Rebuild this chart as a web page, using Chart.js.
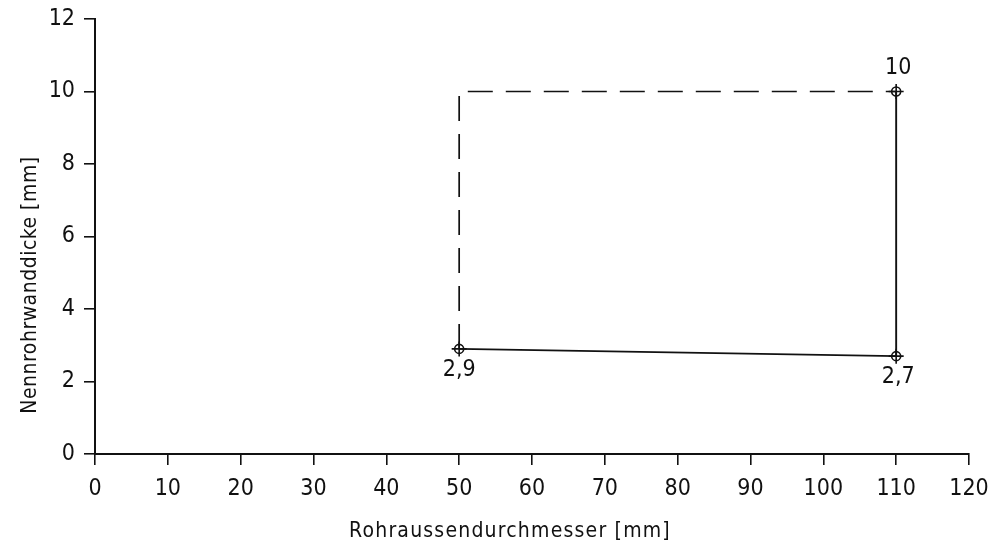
<!DOCTYPE html>
<html><head><meta charset="utf-8">
<script src="https://cdn.jsdelivr.net/npm/chart.js@4/dist/chart.umd.min.js"></script>
<style>html,body{margin:0;padding:0;background:#fff}#wrap{width:988px;height:546px}</style>
</head><body><div id="wrap"><canvas id="c" width="988" height="546"></canvas></div>
<script>
const xMin = 0, xMax = 120, xStep = 10;
const yMin = 0, yMax = 12, yStep = 2;
const dashedX = [50, 50, 110];
const dashedY = [2.9, 10, 10];
const solidX = [50, 110, 110];
const solidY = [2.9, 2.7, 10];
const markX = [50, 110, 110];
const markY = [2.9, 2.7, 10];
const markLabels = ['2,9', '2,7', '10'];
const markLabelSide = ['below', 'below', 'above'];
const xTitle = 'Rohraussendurchmesser [mm]';
const yTitle = 'Nennrohrwanddicke [mm]';

const FONT = "'Liberation Sans Narrow', 'DejaVu Sans Condensed', 'Roboto Condensed', sans-serif";
const INK = '#111';

const toPts = (xs, ys) => xs.map((x, i) => ({x: x, y: ys[i]}));

const annot = {
  id: 'annot',
  afterDatasetsDraw(chart) {
    const ctx = chart.ctx, xs = chart.scales.x, ys = chart.scales.y;
    ctx.save();
    ctx.fillStyle = INK;
    ctx.font = '23px ' + FONT;
    ctx.textAlign = 'center';
    ctx.textBaseline = 'alphabetic';
    markLabels.forEach((t, i) => {
      const px = xs.getPixelForValue(markX[i]);
      const py = ys.getPixelForValue(markY[i]);
      const by = markLabelSide[i] === 'below' ? py + 27 : py - 18;
      ctx.fillText(t, px + (markX[i] > 100 ? 2 : 0), by);
    });
    // axis titles
    ctx.font = '21px ' + FONT;
    if ('letterSpacing' in ctx) ctx.letterSpacing = '1.2px';
    ctx.fillText(xTitle, 510, 537);
    if ('letterSpacing' in ctx) ctx.letterSpacing = '0.5px';
    ctx.translate(36, 285);
    ctx.rotate(-Math.PI / 2);
    ctx.fillText(yTitle, 0, 0);
    ctx.restore();
  }
};

new Chart(document.getElementById('c'), {
  type: 'scatter',
  data: {
    datasets: [
      {data: toPts(dashedX, dashedY), showLine: true, borderColor: INK, borderWidth: 1.7,
       borderDash: [25, 13], pointRadius: 0, fill: false},
      {data: toPts(solidX, solidY), showLine: true, borderColor: INK, borderWidth: 1.9,
       pointRadius: 0, fill: false},
      {data: toPts(markX, markY), showLine: false, pointStyle: 'circle', pointRadius: 4.5,
       borderColor: INK, borderWidth: 1.6, backgroundColor: 'rgba(0,0,0,0)'},
      {data: toPts(markX, markY), showLine: false, pointStyle: 'cross', pointRadius: 7.5,
       borderColor: INK, borderWidth: 1.6}
    ]
  },
  options: {
    responsive: false,
    animation: false,
    devicePixelRatio: 1,
    layout: {padding: {top: 19, right: 19, left: 0, bottom: 0}},
    plugins: {legend: {display: false}, tooltip: {enabled: false}},
    scales: {
      x: {
        type: 'linear', min: xMin, max: xMax,
        ticks: {stepSize: xStep, color: INK, font: {family: FONT, size: 23}, padding: 10, maxRotation: 0},
        grid: {display: true, drawOnChartArea: false, drawTicks: true, tickLength: 11, color: INK, lineWidth: 1.6},
        border: {display: true, color: INK, width: 2},
        afterFit(s) { s.height = 92; s.paddingLeft = 0; s.paddingRight = 0; }
      },
      y: {
        type: 'linear', min: yMin, max: yMax,
        ticks: {stepSize: yStep, color: INK, font: {family: FONT, size: 23}, padding: 9},
        grid: {display: true, drawOnChartArea: false, drawTicks: true, tickLength: 11, color: INK, lineWidth: 1.6},
        border: {display: true, color: INK, width: 2},
        afterFit(s) { s.width = 95; s.paddingTop = 0; s.paddingBottom = 0; }
      }
    }
  },
  plugins: [annot]
});
</script></body></html>
